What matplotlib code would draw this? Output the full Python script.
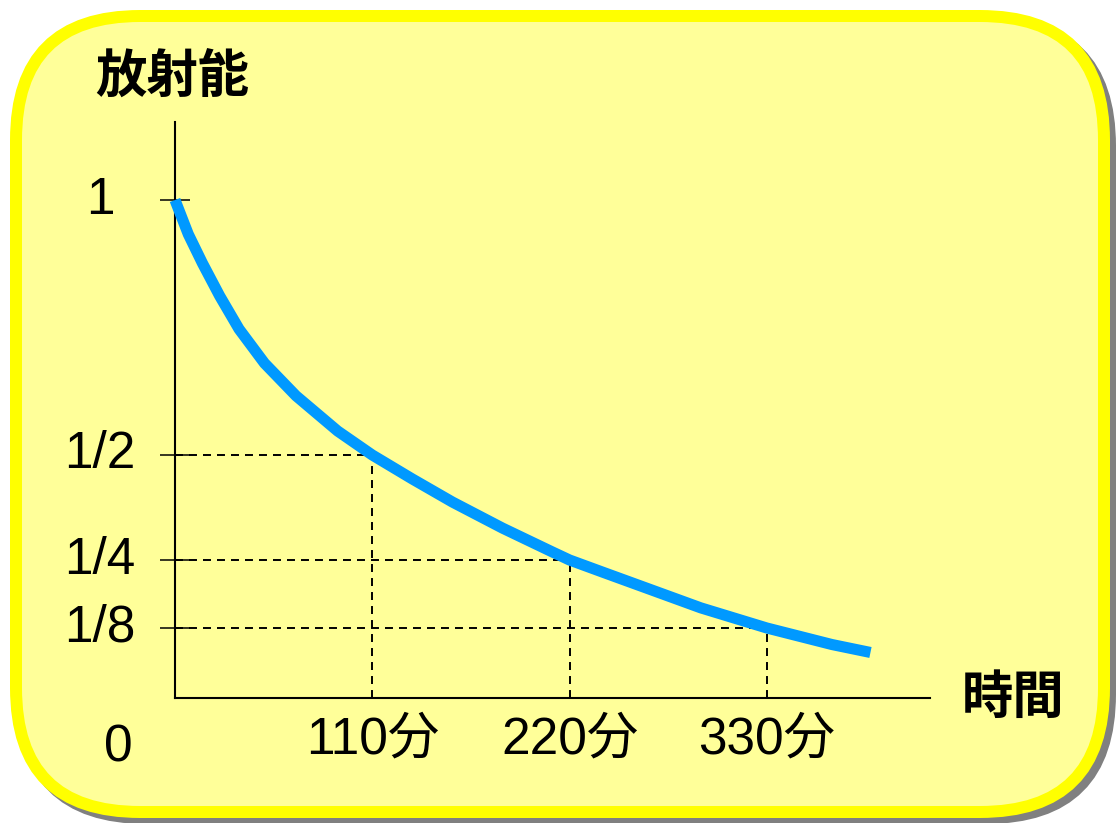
import numpy as np
import matplotlib.pyplot as plt
from matplotlib.patches import FancyBboxPatch

# Decay curve: activity (fraction of start) against time in minutes
time_min = [0, 7.4, 15.3, 24.9, 35.7, 49.9, 67.5, 90.7, 110, 132.3,
            154.7, 182.6, 210.5, 220, 238.2, 265.7, 293.2, 330, 366.3, 387.8]
activity = [1.0, 0.933, 0.876, 0.812, 0.747, 0.680, 0.616, 0.547, 0.5, 0.443,
            0.388, 0.326, 0.269, 0.25, 0.228, 0.195, 0.162, 0.125, 0.0955, 0.0813]

# Half-life markers
half_times = [110, 220, 330]
half_values = [0.5, 0.25, 0.125]
x_labels = ['110分', '220分', '330分']

y_ticks = [1, 0.5, 0.25, 0.125]
y_labels = ['1', '1/2', '1/4', '1/8']

W, H = 1119, 823
fig = plt.figure(figsize=(W / 100, H / 100), dpi=100)
fig.patch.set_facecolor('white')

num_font = ['Liberation Sans', 'Noto Sans CJK JP']
jp_font = ['Noto Sans CJK JP', 'DejaVu Sans']

# background panel in pixel coordinates
bg = fig.add_axes([0, 0, 1, 1])
bg.set_xlim(0, W)
bg.set_ylim(H, 0)
bg.axis('off')

shadow = FancyBboxPatch((22, 22), 1088, 796,
                        boxstyle='round,pad=0,rounding_size=124',
                        facecolor='#808080', edgecolor='#808080', lw=8.64)
panel = FancyBboxPatch((16, 16), 1088, 796,
                       boxstyle='round,pad=0,rounding_size=124',
                       facecolor='#FFFF99', edgecolor='#FFFF00', lw=8.64)
bg.add_patch(shadow)
bg.add_patch(panel)

bg.text(172, 77, '放射能', family=jp_font, fontsize=37, fontweight='bold',
        ha='center', va='center')
bg.text(1013, 697, '時間', family=jp_font, fontsize=37, fontweight='bold',
        ha='center', va='center')
bg.text(118, 748, '0', family=num_font, fontsize=37, ha='center', va='center')

# plot area: x axis at y=698px, y axis at x=175px
ax = fig.add_axes([175 / W, (H - 698) / H, (930 - 175) / W, (698 - 122) / H])
ax.set_facecolor('none')

# the vertical scale is hand spaced: 1/2, 1/4, 1/8 are not evenly proportional
scale_v = [-1, 0, 0.125, 0.25, 0.5, 1, 2]
scale_h = [-560, 0, 70, 138, 243, 498, 1008]


def fwd(v):
    return np.interp(v, scale_v, scale_h)


def inv(h):
    return np.interp(h, scale_h, scale_v)


ax.set_yscale('function', functions=(fwd, inv))
ax.set_xlim(0, 421)
ax.set_ylim(0, inv(576))
for side in ['top', 'right']:
    ax.spines[side].set_visible(False)
for side in ['left', 'bottom']:
    ax.spines[side].set_linewidth(1.5)
    ax.spines[side].set_color('black')

ax.set_xticks([])
ax.set_yticks(y_ticks)
ax.set_yticklabels([])
ax.minorticks_off()
ax.tick_params(axis='y', direction='inout', length=21.6, width=1.1, color='black')

for lab, val in zip(y_labels, y_ticks):
    ax.text(-0.0993, val, lab, transform=ax.get_yaxis_transform(),
            family=num_font, fontsize=37, ha='center', va='center')

for t, v, lab in zip(half_times, half_values, x_labels):
    ax.plot([0, t], [v, v], color='black', lw=1.4, linestyle=(0, (4.1, 3.1)),
            clip_on=False)
    ax.plot([t, t], [0, v], color='black', lw=1.4, linestyle=(0, (4.1, 3.1)),
            clip_on=False)
    ax.text(t, -0.073, lab, transform=ax.get_xaxis_transform(),
            family=num_font, fontsize=37, ha='center', va='center')

ax.plot(time_min, activity, color='#0099FF', lw=8,
        solid_capstyle='butt', solid_joinstyle='round', clip_on=False, zorder=3)

fig.savefig('out.png', dpi=100)
